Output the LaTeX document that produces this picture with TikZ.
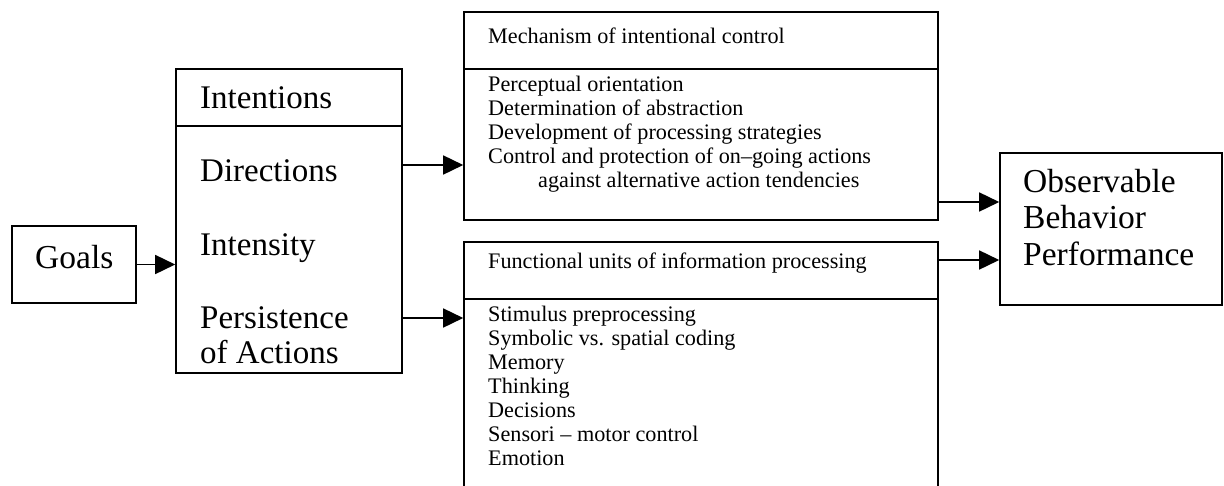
\documentclass[tikz,border=0pt]{standalone}
\usepackage{fontspec}
\setmainfont{Liberation Serif}
\usetikzlibrary{arrows.meta}
\begin{document}
\begin{tikzpicture}[x=1pt,y=-1pt,
  lw/.style={line width=1.6pt},
  big/.style={anchor=base west,inner sep=0pt,font=\fontsize{33}{35}\selectfont},
  small/.style={anchor=base west,inner sep=0pt,font=\fontsize{22.2}{24}\selectfont},
  arr/.style={lw,-{Triangle[length=20pt,width=19pt]}}]
\useasboundingbox (0,0) rectangle (1224,485);
\clip (0,0) rectangle (1224,485);
% boxes
\node[inner sep=0pt,minimum width=124pt,minimum height=77pt,draw,lw] (goals) at (74,264.5) {};
\node[inner sep=0pt,minimum width=226pt,minimum height=304pt,draw,lw] (intent) at (289,221) {};
\draw[lw] (intent.west |- 0,126) -- (intent.east |- 0,126);
\node[inner sep=0pt,minimum width=474pt,minimum height=208pt,draw,lw] (mech) at (701,116) {};
\draw[lw] (mech.west |- 0,69) -- (mech.east |- 0,69);
\node[inner sep=0pt,minimum width=474pt,minimum height=280pt,draw,lw] (func) at (701,382) {};
\draw[lw] (func.west |- 0,299) -- (func.east |- 0,299);
\node[inner sep=0pt,minimum width=222pt,minimum height=152pt,draw,lw] (obs) at (1111,229) {};
% texts
\node[big,font=\fontsize{33.5}{35}\selectfont] (tgoals) at (35,268) {Goals};
\node[big] (t1) at (200,108) {Intentions};
\node[big] (t2) at (200,181) {Directions};
\node[big] (t3) at (200,255) {Intensity};
\node[big] (t4) at (200,328) {Persistence};
\node[big] (t5) at (200,363) {of Actions};
\node[small] (m0) at (488,43) {Mechanism of intentional control};
\node[small] (m1) at (488,91) {Perceptual orientation};
\node[small] (m2) at (488,115) {Determination of abstraction};
\node[small] (m3) at (488,139) {Development of processing strategies};
\node[small] (m4) at (488,163) {Control and protection of on--going actions};
\node[small] (m5) at (538,187) {against alternative action tendencies};
\node[small] (f0) at (488,268) {Functional units of information processing};
\node[small] (f1) at (488,321) {Stimulus preprocessing};
\node[small] (f2) at (488,345) {Symbolic vs. spatial coding};
\node[small] (f3) at (488,369) {Memory};
\node[small] (f4) at (488,393) {Thinking};
\node[small] (f5) at (488,417) {Decisions};
\node[small] (f6) at (488,441) {Sensori -- motor control};
\node[small] (f7) at (488,465) {Emotion};
\node[big,font=\fontsize{33.5}{36}\selectfont] (o1) at (1023,192) {Observable};
\node[big,font=\fontsize{33.5}{36}\selectfont] (o2) at (1023,228) {Behavior};
\node[big,font=\fontsize{33.5}{36}\selectfont] (o3) at (1023,265) {Performance};
% connectors
\draw[arr] (goals.east) -- (goals.east -| intent.west);
\coordinate (c1) at (402,165);
\coordinate (c2) at (402,318);
\draw[arr] (c1) -- (c1 -| mech.west);
\draw[arr] (c2) -- (c2 -| func.west);
\coordinate (c3) at (938,202);
\coordinate (c4) at (938,260);
\draw[arr] (c3) -- (c3 -| obs.west);
\draw[arr] (c4) -- (c4 -| obs.west);
\end{tikzpicture}
\end{document}
